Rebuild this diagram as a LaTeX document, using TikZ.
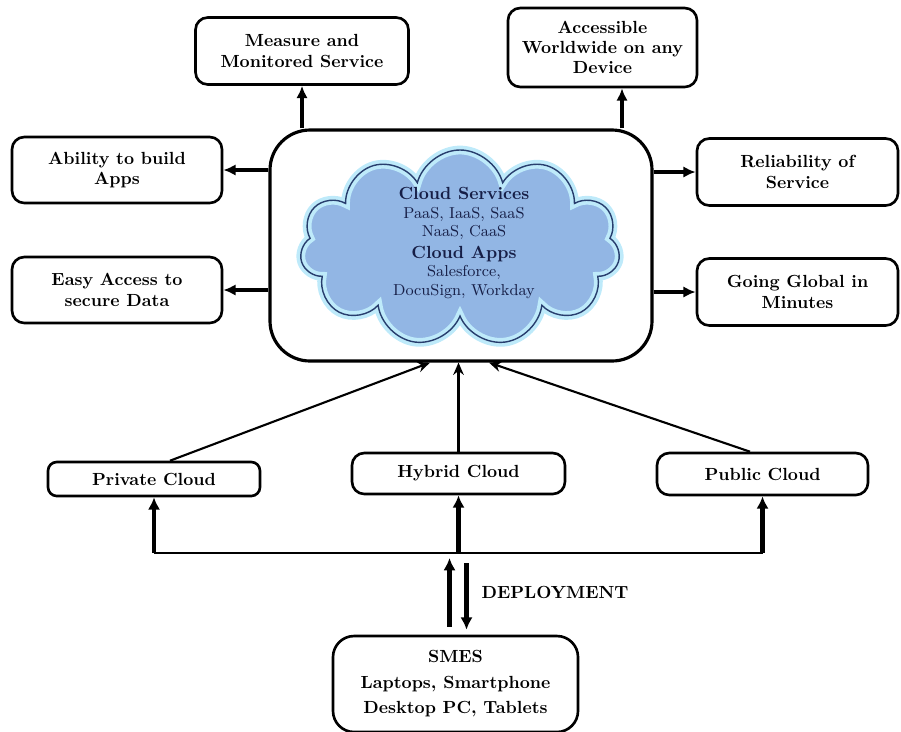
\documentclass[tikz,border=0pt]{standalone}
\usetikzlibrary{arrows.meta,positioning,shapes.symbols}
\definecolor{cloudfill}{RGB}{146,182,228}
\definecolor{cloudedge}{RGB}{40,62,110}
\definecolor{cloudglow}{RGB}{190,234,250}
\definecolor{cloudtext}{RGB}{22,30,70}

\begin{document}
\begin{tikzpicture}[x=0.02cm,y=-0.02cm,
    box/.style={draw,line width=1.5pt,rounded corners=7pt,align=center,inner sep=2pt,
      font=\bfseries\fontsize{10}{11.5}\selectfont},
    arr/.style={line width=2pt,-{Latex[length=7pt,width=6.5pt]}},
    busarr/.style={line width=2.4pt,-{Latex[length=7pt,width=7pt]}},
    thinarr/.style={line width=1.2pt,-{Stealth[length=7pt,width=6pt]}}]
  \def\px{0.02cm}
  \useasboundingbox (0,0) rectangle (901,731);
  % outcome boxes
  \node[box,minimum width=213*\px,minimum height=67*\px] (measure) at (302,51) {Measure and\\Monitored Service};
  \node[box,minimum width=189*\px,minimum height=79*\px] (access) at (602.5,47.5) {Accessible\\Worldwide on any\\Device};
  \node[box,minimum width=210*\px,minimum height=66*\px] (ability) at (117,170) {Ability to build\\Apps};
  \node[box,minimum width=210*\px,minimum height=66*\px] (easy) at (117,290) {Easy Access to\\secure Data};
  \node[box,minimum width=201*\px,minimum height=67*\px] (reliab) at (797.5,172) {Reliability of\\Service};
  \node[box,minimum width=201*\px,minimum height=67*\px] (global) at (797.5,292) {Going Global in\\Minutes};
  % central box with the cloud
  \node[draw,line width=1.8pt,rounded corners=0.8cm,minimum width=382*\px,minimum height=231*\px] (center) at (461,245.5) {};
  \node[cloud,cloud puffs=11,aspect=1.6,draw=cloudglow,line width=5pt,fill=cloudfill,
    minimum width=320*\px,minimum height=196*\px] (cloudglow) at (460,248) {};
  \node[cloud,cloud puffs=11,aspect=1.6,draw=cloudedge,line width=0.8pt,
    minimum width=320*\px,minimum height=196*\px] (cloud) at (460,248) {};
  \node[align=center,text=cloudtext,font=\fontsize{9}{10.5}\selectfont] (cloudtxt) at (464,243)
    {\textbf{\fontsize{10}{12}\selectfont Cloud Services}\\PaaS, IaaS, SaaS\\NaaS, CaaS\\[2pt]
     \textbf{\fontsize{10}{12}\selectfont Cloud Apps}\\Salesforce,\\DocuSign, Workday};
  % deployment models
  \node[box,minimum width=212*\px,minimum height=34*\px,rounded corners=5pt] (private) at (154,479) {Private Cloud};
  \node[box,minimum width=213*\px,minimum height=41*\px] (hybrid) at (458.5,473.5) {Hybrid Cloud};
  \node[box,minimum width=211*\px,minimum height=42*\px] (public) at (762.5,474) {Public Cloud};
  \node[box,minimum width=245*\px,minimum height=96*\px,rounded corners=12pt] (smes) at (455.5,684)
    {SMES\\[3pt]Laptops, Smartphone\\[3pt]Desktop PC, Tablets};
  \node[font=\bfseries\fontsize{10}{12}\selectfont] (deplabel) at (555,592) {DEPLOYMENT};
  \coordinate (accin) at ([xshift=19.5*\px]access.south);
  \coordinate (bus) at (455,553);
  \coordinate (dup) at ([xshift=-6*\px]smes.north);
  \coordinate (ddown) at ([xshift=11*\px]smes.north);
  \coordinate (dupB) at (dup |- bus);
  \coordinate (ddownB) at (ddown |- bus);
  % outgoing arrows
  \draw[arr] (measure.south |- center.north) -- (measure.south);
  \draw[arr] (accin |- center.north) -- (accin);
  \draw[arr] (ability.east -| center.west) -- (ability.east);
  \draw[arr] (easy.east -| center.west) -- (easy.east);
  \draw[arr] (reliab.west -| center.east) -- (reliab.west);
  \draw[arr] (global.west -| center.east) -- (global.west);
  % into the cloud
  \draw[thinarr] ([xshift=16*\px]private.north) -- ([xshift=-31*\px]center.south);
  \draw[thinarr] (hybrid.north) -- (hybrid.north |- center.south);
  \draw[thinarr] ([xshift=-12.5*\px]public.north) -- ([xshift=28*\px]center.south);
  % bus
  \draw[line width=1.6pt] (private.south |- bus) -- (public.south |- bus);
  \draw[busarr] (private.south |- bus) -- (private.south);
  \draw[busarr] (hybrid.south |- bus) -- (hybrid.south);
  \draw[busarr] (public.south |- bus) -- (public.south);
  \draw[busarr] ([yshift=8*\px]dup) -- ([yshift=-5*\px]dupB);
  \draw[busarr] ([yshift=-10*\px]ddownB) -- ([yshift=5*\px]ddown);
\end{tikzpicture}
\end{document}
